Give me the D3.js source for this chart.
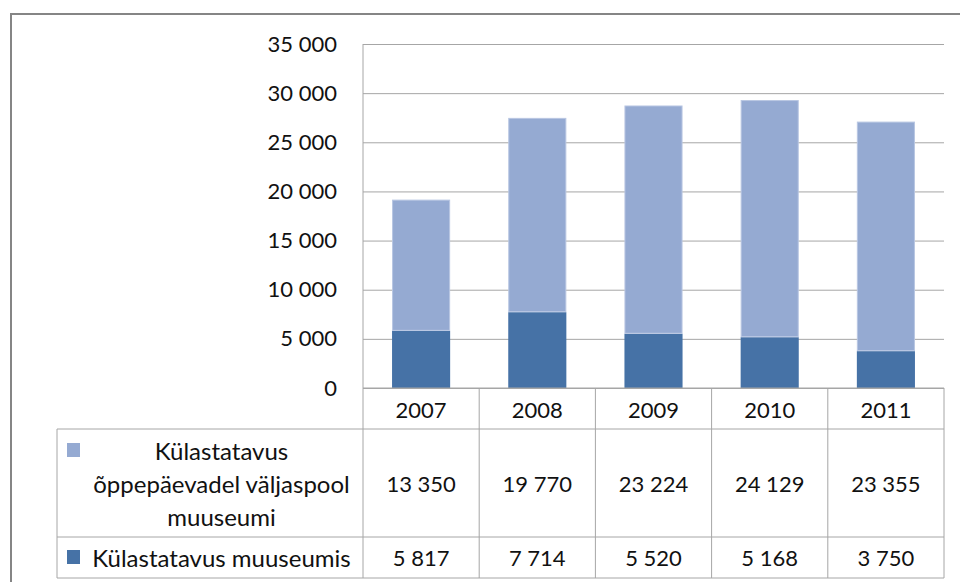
<!DOCTYPE html>
<html>
<head>
<meta charset="utf-8">
<script src="https://cdn.jsdelivr.net/npm/d3@7"></script>
<style>
  body { margin: 0; background: #fff; }
  svg text { font-family: Lato, "Open Sans", sans-serif; fill: #111; }
</style>
</head>
<body>
<div class="canvas"></div>
<script>
var years = ["2007", "2008", "2009", "2010", "2011"]
var outside = [13350, 19770, 23224, 24129, 23355]   // Külastatavus õppepäevadel väljaspool muuseumi
var inside = [5817, 7714, 5520, 5168, 3750]         // Külastatavus muuseumis
var yTicks = [0, 5000, 10000, 15000, 20000, 25000, 30000, 35000]
var outsideLabel = ["Külastatavus", "õppepäevadel väljaspool", "muuseumi"]
var insideLabel = "Külastatavus muuseumis"

var width = 960, height = 582
var plotLeft = 363, plotRight = 944, plotTop = 44, plotBottom = 388
var headerBottom = 429, row1Bottom = 537, row2Bottom = 578, labelLeft = 57
var lightBlue = "#95aad2", darkBlue = "#4672a6", gridColor = "#a6a6a6"

var loc = d3.formatLocale({decimal: ",", thousands: "\u00a0", grouping: [3], currency: ["", ""]})
var fmt = loc.format(",")

var svg = d3.select(".canvas")
    .append("svg")
    .attr("width", width)
    .attr("height", height)

// outer frame
svg.append("rect")
    .attr("x", 11).attr("y", 14)
    .attr("width", 980).attr("height", 600)
    .attr("fill", "none")
    .attr("stroke", "#858585")
    .attr("stroke-width", 2)

var x = d3.scaleBand().domain(years).range([plotLeft, plotRight]).paddingInner(0.5).paddingOuter(0.25)
var xCell = d3.scaleBand().domain(years).range([plotLeft, plotRight])
var y = d3.scaleLinear().domain([0, 35000]).range([plotBottom, plotTop])

// gridlines + y axis
var yAxis = svg.append("g")
    .attr("transform", "translate(" + plotLeft + ",0)")
    .call(d3.axisLeft(y).tickValues(yTicks).tickFormat(fmt).tickSize(-(plotRight - plotLeft)).tickPadding(26))
yAxis.select(".domain").remove()
yAxis.selectAll("line").attr("stroke", gridColor)
yAxis.selectAll("text").style("font-size", "22px").attr("fill", "#111")

svg.append("line")
    .attr("x1", plotLeft).attr("x2", plotLeft)
    .attr("y1", plotTop).attr("y2", plotBottom)
    .attr("stroke", gridColor)

// stacked bars
svg.append("g").selectAll("rect")
    .data(years)
    .join("rect")
    .attr("x", d => x(d))
    .attr("width", x.bandwidth())
    .attr("y", (d, i) => y(inside[i]))
    .attr("height", (d, i) => plotBottom - y(inside[i]))
    .attr("fill", darkBlue)

svg.append("g").selectAll("rect")
    .data(years)
    .join("rect")
    .attr("x", d => x(d) + 0.5)
    .attr("width", x.bandwidth() - 1)
    .attr("y", (d, i) => y(inside[i] + outside[i]) + 0.5)
    .attr("height", (d, i) => y(inside[i]) - y(inside[i] + outside[i]) - 1)
    .attr("fill", lightBlue)
    .attr("stroke", "#b8c6e2")
    .attr("stroke-width", 1)

// data table
var tbl = svg.append("g").attr("stroke", gridColor).attr("stroke-width", 1)
tbl.append("line").attr("x1", plotLeft).attr("x2", plotRight).attr("y1", plotBottom).attr("y2", plotBottom)
tbl.append("line").attr("x1", labelLeft).attr("x2", plotRight).attr("y1", headerBottom).attr("y2", headerBottom)
tbl.append("line").attr("x1", labelLeft).attr("x2", plotRight).attr("y1", row1Bottom).attr("y2", row1Bottom)
tbl.append("line").attr("x1", labelLeft).attr("x2", plotRight).attr("y1", row2Bottom).attr("y2", row2Bottom)
tbl.append("line").attr("x1", labelLeft).attr("x2", labelLeft).attr("y1", headerBottom).attr("y2", row2Bottom)
tbl.selectAll(".v")
    .data(years.concat(["end"]))
    .join("line")
    .attr("class", "v")
    .attr("x1", d => d == "end" ? plotRight : xCell(d))
    .attr("x2", d => d == "end" ? plotRight : xCell(d))
    .attr("y1", plotBottom).attr("y2", row2Bottom)

var cx = d => xCell(d) + xCell.bandwidth() / 2

svg.append("g").selectAll("text")
    .data(years)
    .join("text")
    .attr("x", cx)
    .attr("y", (plotBottom + headerBottom) / 2 + 1)
    .attr("text-anchor", "middle")
    .attr("dominant-baseline", "central")
    .style("font-size", "22px")
    .text(d => d)

svg.append("g").selectAll("text")
    .data(years)
    .join("text")
    .attr("x", cx)
    .attr("y", (headerBottom + row1Bottom) / 2)
    .attr("text-anchor", "middle")
    .attr("dominant-baseline", "central")
    .style("font-size", "22px")
    .text((d, i) => fmt(outside[i]))

svg.append("g").selectAll("text")
    .data(years)
    .join("text")
    .attr("x", cx)
    .attr("y", (row1Bottom + row2Bottom) / 2)
    .attr("text-anchor", "middle")
    .attr("dominant-baseline", "central")
    .style("font-size", "22px")
    .text((d, i) => fmt(inside[i]))

// row labels with legend keys
var labelCenter = 221.5
svg.append("rect").attr("x", 67).attr("y", 443).attr("width", 13).attr("height", 14).attr("fill", lightBlue)
svg.append("g").selectAll("text")
    .data(outsideLabel)
    .join("text")
    .attr("x", labelCenter)
    .attr("y", (d, i) => 450 + i * 33)
    .attr("text-anchor", "middle")
    .attr("dominant-baseline", "central")
    .style("font-size", "24px")
    .text(d => d)

svg.append("rect").attr("x", 67).attr("y", 550).attr("width", 13).attr("height", 14).attr("fill", darkBlue)
svg.append("text")
    .attr("x", labelCenter)
    .attr("y", (row1Bottom + row2Bottom) / 2)
    .attr("text-anchor", "middle")
    .attr("dominant-baseline", "central")
    .style("font-size", "24px")
    .text(insideLabel)
</script>
</body>
</html>
